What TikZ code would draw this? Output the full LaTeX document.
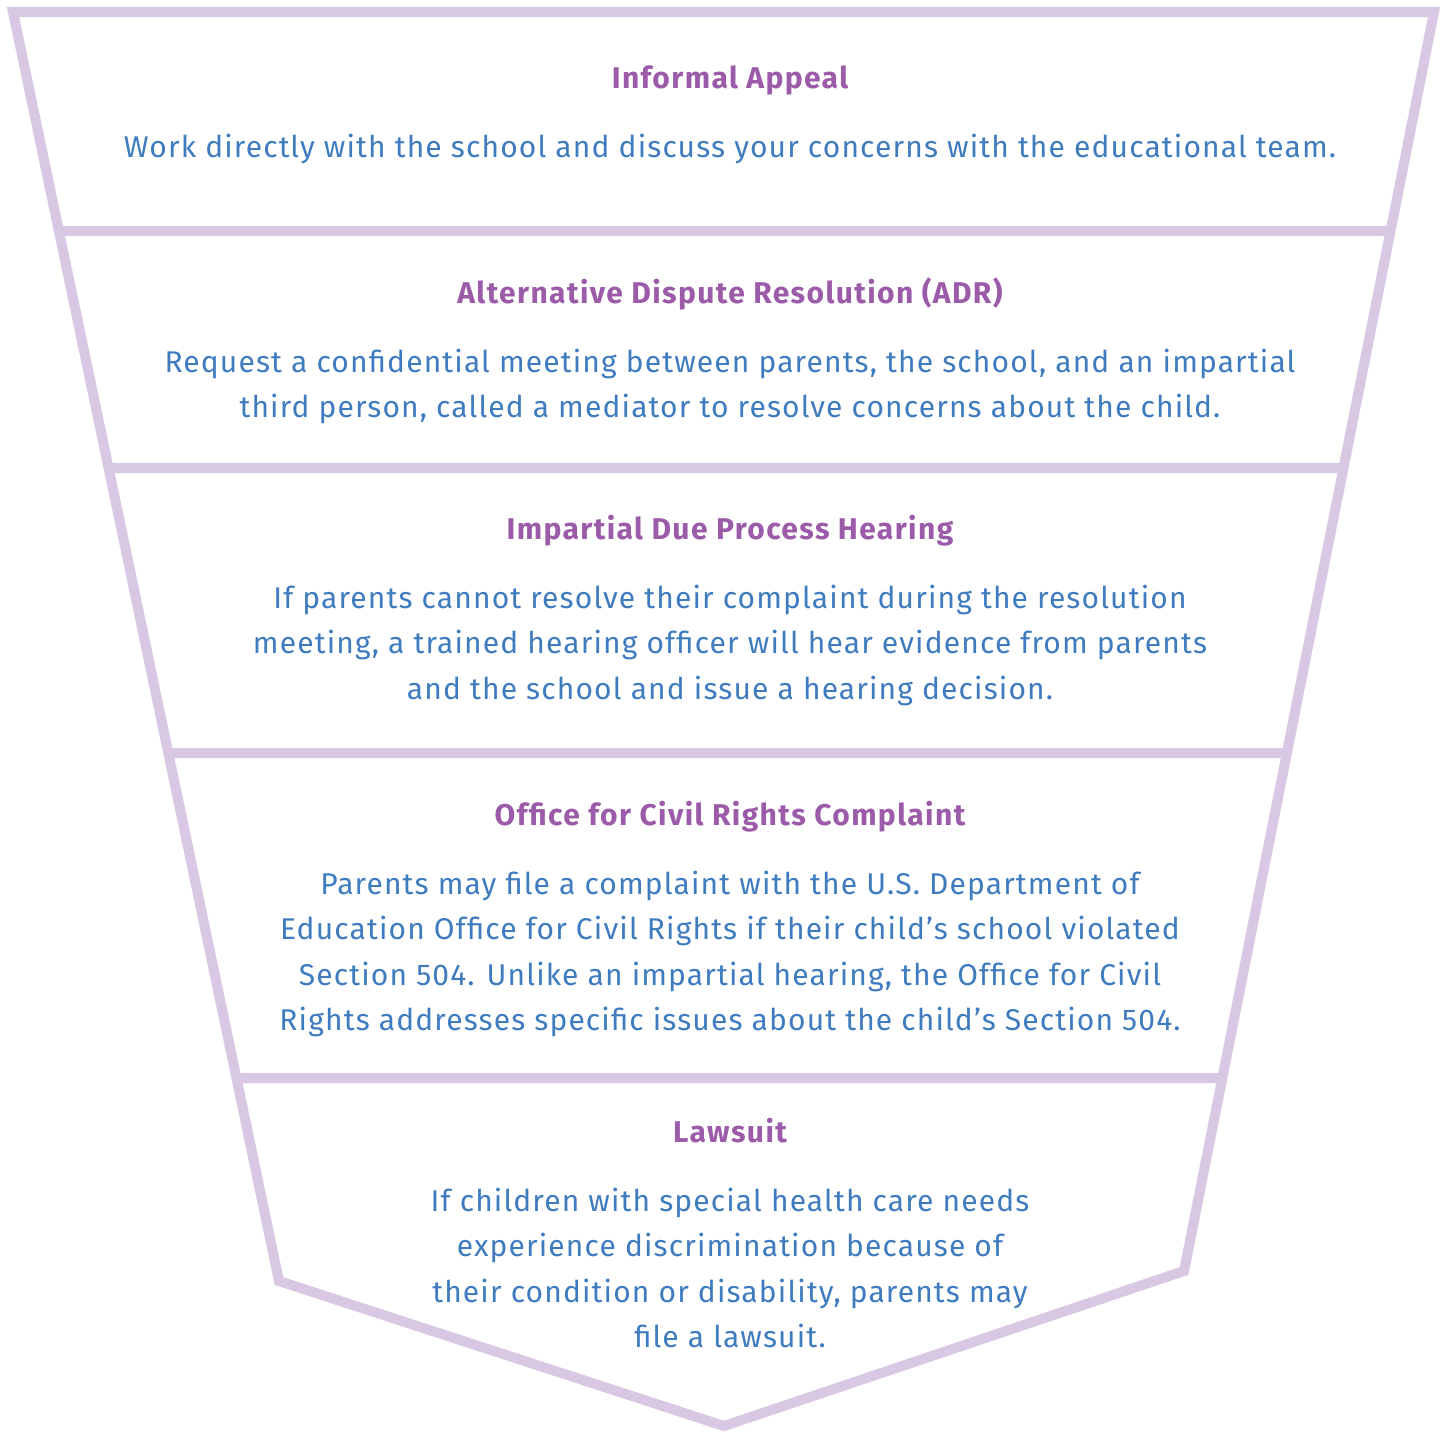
\documentclass[tikz,border=0pt]{standalone}
\usepackage{fontspec}
\setmainfont{Fira Sans}
\newfontfamily\funnelbodyfont[LetterSpace=3.8]{Fira Sans}
\newfontfamily\funneltitlefont[LetterSpace=4.6]{Fira Sans}
\usepackage{xcolor}
\usepackage{tikz}
\usetikzlibrary{positioning}
\definecolor{funnelline}{HTML}{D9C8E3}
\definecolor{funneltitle}{HTML}{9B5BA8}
\definecolor{funnelbody}{HTML}{3F7CBF}
\tikzset{funnel-line/.style={line width=5pt, color=funnelline, line join=miter}}
\tikzset{funnel-title/.style={inner sep=0, anchor=base, text depth=2.6pt, text=funneltitle, font=\funneltitlefont\fontsize{15}{18}\selectfont\bfseries}}
\tikzset{funnel-body/.style={inner sep=0, align=center, text=funnelbody, font=\funnelbodyfont\fontsize{15}{22.75}\selectfont}}

\begin{document}
\begin{tikzpicture}[x=0.5pt, y=-0.5pt]
            \useasboundingbox (0,0) rectangle (1443,1435);

            \coordinate (tl) at (13,12);
            \coordinate (tr) at (1434,12);
            \coordinate (br) at (1184,1271);
            \coordinate (tip) at (724,1426);
            \coordinate (bl) at (279,1281);

            \draw[funnel-line] (tl) -- (tr) -- (br) -- (tip) -- (bl) -- cycle;

            \foreach \y in {231,468,753,1078}
                \draw[funnel-line] (intersection of tl--bl and 0,\y--1,\y) -- (intersection of tr--br and 0,\y--1,\y);

            \node[funnel-title] (title1) at (730,88) {Informal Appeal};
            \node[funnel-body, below=20pt of title1.south] (body1) {Work directly with the school and discuss your concerns with the educational team.};

            \node[funnel-title] (title2) at (730,303) {Alternative Dispute Resolution (ADR)};
            \node[funnel-body, below=20pt of title2.south] (body2) {Request a confidential meeting between parents, the school, and an impartial\\third person, called a mediator to resolve concerns about the child.};

            \node[funnel-title] (title3) at (730,539) {Impartial Due Process Hearing};
            \node[funnel-body, below=20pt of title3.south] (body3) {If parents cannot resolve their complaint during the resolution\\meeting, a trained hearing officer will hear evidence from parents\\and the school and issue a hearing decision.};

            \node[funnel-title] (title4) at (730,825) {Office for Civil Rights Complaint};
            \node[funnel-body, below=20pt of title4.south] (body4) {Parents may file a complaint with the U.S. Department of\\Education Office for Civil Rights if their child’s school violated\\Section 504. Unlike an impartial hearing, the Office for Civil\\Rights addresses specific issues about the child’s Section 504.};

            \node[funnel-title] (title5) at (730,1142) {Lawsuit};
            \node[funnel-body, below=20pt of title5.south] (body5) {If children with special health care needs\\experience discrimination because of\\their condition or disability, parents may\\file a lawsuit.};
\end{tikzpicture}
\end{document}
